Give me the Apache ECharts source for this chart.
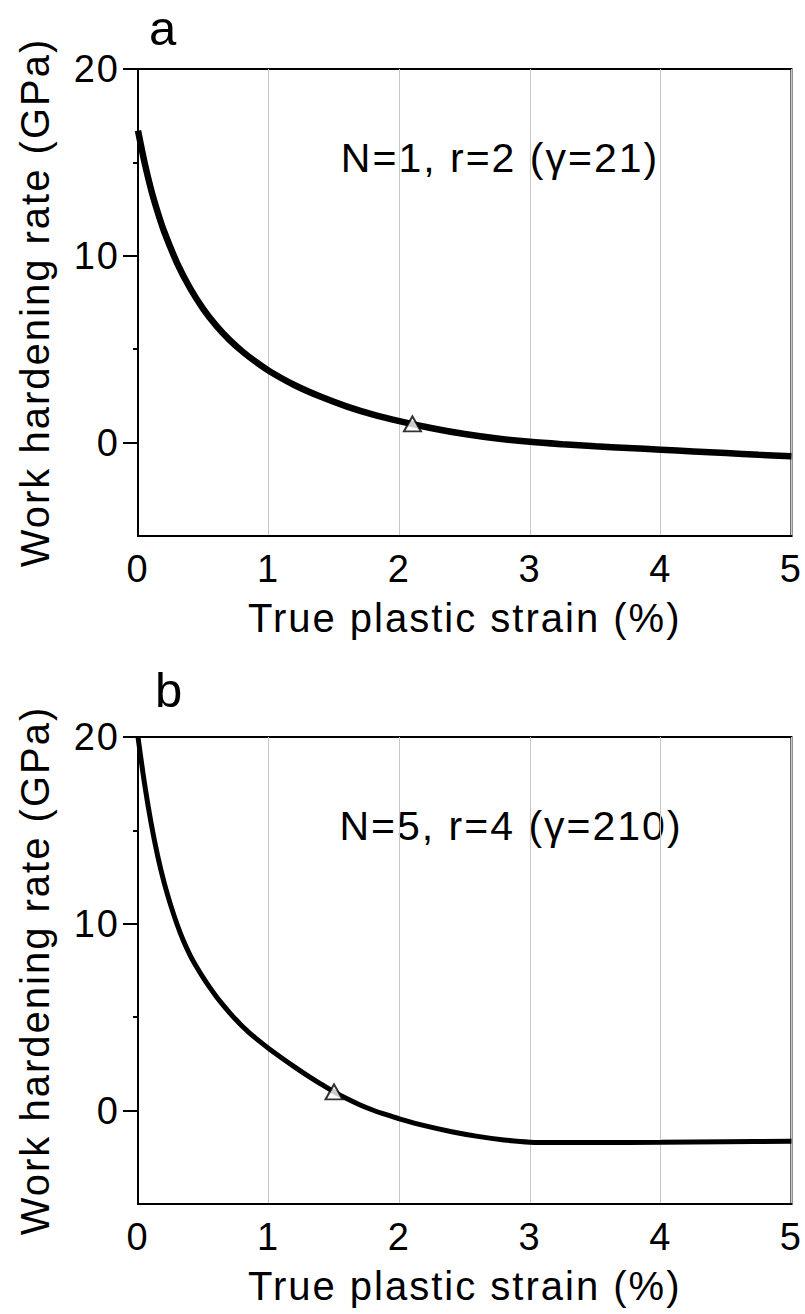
<!DOCTYPE html>
<html>
<head>
<meta charset="utf-8">
<script src="https://cdn.jsdelivr.net/npm/echarts@6/dist/echarts.min.js"></script>
<style>
html, body { margin: 0; padding: 0; background: #fff; }
#chart { width: 805px; height: 1314px; }
#chart text { letter-spacing: 2px; }
</style>
</head>
<body>
<div id="chart"></div>
<script>
// ---- data ----
const xTickValues = [0, 1, 2, 3, 4, 5];
const yMajorTicks = [0, 10, 20];
const yMinorTicks = [5, 15];

// Panel a: N=1, r=2 (gamma=21)
const strainA = [0, 0.05, 0.1, 0.15, 0.2, 0.3, 0.4, 0.5, 0.6, 0.7, 0.8, 0.9, 1.0, 1.2, 1.4, 1.6, 1.8, 2.0, 2.25, 2.5, 2.75, 3.0, 3.25, 3.5, 3.75, 4.0, 4.25, 4.5, 4.75, 5.0];
const rateA   = [16.7, 15.0, 13.55, 12.35, 11.3, 9.6, 8.25, 7.15, 6.25, 5.5, 4.87, 4.33, 3.85, 3.07, 2.45, 1.93, 1.5, 1.15, 0.77, 0.46, 0.22, 0.04, -0.09, -0.2, -0.29, -0.38, -0.47, -0.56, -0.65, -0.73];
const markerA = [2.1, 1.0];

// Panel b: N=5, r=4 (gamma=210)
const strainB = [0, 0.05, 0.1, 0.15, 0.2, 0.25, 0.3, 0.35, 0.4, 0.45, 0.5, 0.55, 0.6, 0.65, 0.7, 0.75, 0.8, 0.85, 0.9, 0.95, 1.0, 1.1, 1.2, 1.3, 1.4, 1.5, 1.6, 1.7, 1.8, 1.9, 2.0, 2.2, 2.4, 2.6, 2.8, 3.0, 3.2, 3.5, 4.0, 4.5, 5.0];
const rateB   = [20, 17.5, 15.4, 13.65, 12.2, 11.0, 9.95, 9.05, 8.3, 7.67, 7.1, 6.58, 6.1, 5.66, 5.25, 4.86, 4.5, 4.18, 3.88, 3.6, 3.33, 2.82, 2.33, 1.86, 1.42, 1.0, 0.63, 0.3, 0.02, -0.22, -0.44, -0.82, -1.13, -1.38, -1.57, -1.69, -1.71, -1.71, -1.7, -1.67, -1.64];
const markerB = [1.5, 1.0];

const annotations = ['N=1, r=2 (\u03B3=21)', 'N=5, r=4 (\u03B3=210)'];
const panelLetters = ['a', 'b'];
const xTitle = 'True plastic strain (%)';
const yTitle = 'Work hardening rate (GPa)';

// ---- chart ----
const FONT = 'Liberation Sans, Arial, Helvetica, sans-serif';
const gridTops = [69, 737];
const panels = [
  { strain: strainA, rate: rateA, marker: markerA, width: 6.5 },
  { strain: strainB, rate: rateB, marker: markerB, width: 5 }
];

const grids = [], xAxes = [], yAxes = [], series = [], graphics = [];
const axisLineStyle = { color: '#000', width: 2 };

panels.forEach((p, i) => {
  grids.push({
    left: 138, top: gridTops[i], width: 654, height: 467,
    show: true, borderColor: '#000', borderWidth: 2, backgroundColor: 'transparent'
  });
  xAxes.push({
    gridIndex: i, type: 'value', min: 0, max: 5, interval: 1,
    axisLine: { show: true, onZero: false, lineStyle: axisLineStyle },
    axisTick: { show: false },
    axisLabel: { color: '#000', fontSize: 38, fontFamily: FONT, margin: 14,
                 customValues: xTickValues },
    splitLine: { show: true, lineStyle: { color: '#c8c8c8', width: 1 } },
    name: xTitle, nameLocation: 'middle', nameGap: 62,
    nameTextStyle: { color: '#000', fontSize: 40, fontFamily: FONT }
  });
  yAxes.push({
    gridIndex: i, type: 'value', min: -5, max: 20, interval: 5, position: 'left',
    axisLine: { show: true, onZero: false, lineStyle: axisLineStyle },
    axisTick: { show: true, length: 15, customValues: yMajorTicks, lineStyle: axisLineStyle },
    axisLabel: { color: '#000', fontSize: 38, fontFamily: FONT, margin: 18,
                 customValues: yMajorTicks },
    splitLine: { show: false },
    name: yTitle, nameLocation: 'middle', nameGap: 83,
    nameTextStyle: { color: '#000', fontSize: 40, fontFamily: FONT }
  });
  yAxes.push({
    gridIndex: i, type: 'value', min: -5, max: 20, interval: 5, position: 'left', offset: 0,
    axisLine: { show: false },
    axisTick: { show: true, length: 5, customValues: yMinorTicks, lineStyle: axisLineStyle },
    axisLabel: { show: false },
    splitLine: { show: false }
  });
  series.push({
    type: 'line', xAxisIndex: i, yAxisIndex: i * 2,
    data: p.strain.map((x, k) => [x, p.rate[k]]),
    symbol: 'none', showSymbol: false, smooth: 0.3,
    lineStyle: { color: '#000', width: p.width }, z: 3, animation: false
  });
  series.push({
    type: 'scatter', xAxisIndex: i, yAxisIndex: i * 2,
    data: [p.marker], symbol: 'triangle', symbolSize: [17, 15],
    itemStyle: { color: '#fff', borderColor: '#000', borderWidth: 2 },
    z: 5, animation: false
  });
  graphics.push({
    type: 'text', x: i === 0 ? 500 : 511, y: gridTops[i] + 89,
    style: {
      text: annotations[i],
      font: '41px ' + FONT, fill: '#000',
      textAlign: 'center', textVerticalAlign: 'middle'
    }
  });
  graphics.push({
    type: 'text', x: i === 0 ? 149 : 155, y: i === 0 ? 28 : 690,
    style: { text: panelLetters[i], font: '49px ' + FONT, fill: '#000',
             textAlign: 'left', textVerticalAlign: 'middle' }
  });
});

const chart = echarts.init(document.getElementById('chart'), null, { renderer: 'svg' });
chart.setOption({
  animation: false,
  backgroundColor: '#fff',
  grid: grids, xAxis: xAxes, yAxis: yAxes, series: series, graphic: graphics
});
</script>
</body>
</html>
